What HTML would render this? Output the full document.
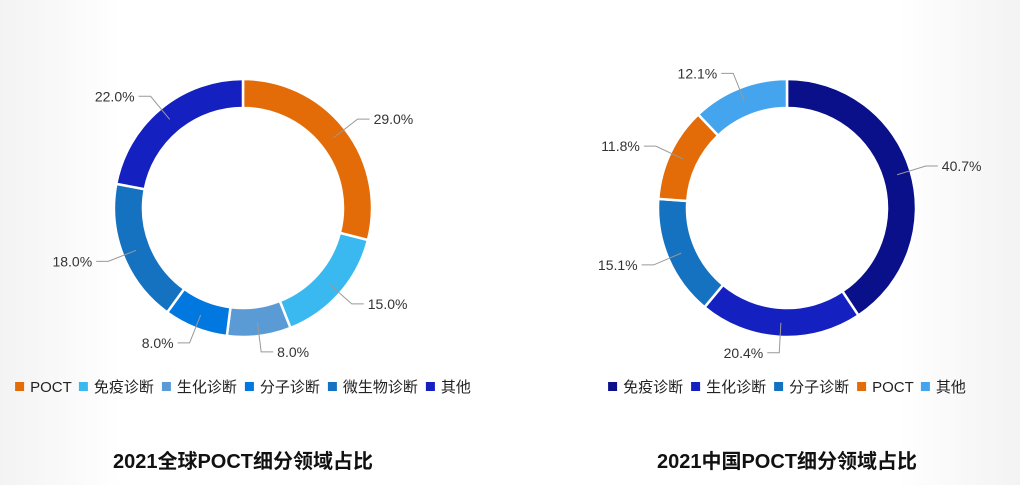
<!DOCTYPE html>
<html><head><meta charset="utf-8">
<style>
html,body{margin:0;padding:0}
body{width:1020px;height:485px;overflow:hidden;background:linear-gradient(90deg,#f3f3f3 0%,#fff 12%,#fff 88%,#f3f3f3 100%);font-family:"Liberation Sans","Noto Sans CJK SC",sans-serif}
svg{position:absolute;left:0;top:0}
</style></head><body>
<svg id="c" width="1020" height="485"></svg>
<script>
const leftCats=["POCT","免疫诊断","生化诊断","分子诊断","微生物诊断","其他"];
const leftVals=[29.0,15.0,8.0,8.0,18.0,22.0];
const leftColors=["#e36c09","#39b9f0","#5b9bd5","#0078e0","#1572c0","#1420c0"];
const rightCats=["免疫诊断","生化诊断","分子诊断","POCT","其他"];
const rightVals=[40.7,20.4,15.1,11.8,12.1];
const rightColors=["#0a0f8a","#1420c0","#1572c0","#e36c09","#44a5ee"];
const NS="http://www.w3.org/2000/svg";
const svg=document.getElementById('c');
function mk(t,a,p){const e=document.createElementNS(NS,t);for(const k in a)e.setAttribute(k,a[k]);(p||svg).appendChild(e);return e;}
function pt(cx,cy,r,a){return [cx+r*Math.sin(a),cy-r*Math.cos(a)];}
function donut(name,cx,cy,cats,vals,colors,title){
  const g=mk('g',{});
  
  
  const tot=vals.reduce((a,b)=>a+b,0);
  const R=129,r=100;let a0=0;
  vals.forEach((v,i)=>{
    const a1=a0+v/tot*2*Math.PI;
    const [x1,y1]=pt(cx,cy,R,a0),[x2,y2]=pt(cx,cy,R,a1),[x3,y3]=pt(cx,cy,r,a1),[x4,y4]=pt(cx,cy,r,a0);
    const lg=(a1-a0)>Math.PI?1:0;
    const p=mk('path',{d:`M${x1},${y1}A${R},${R} 0 ${lg} 1 ${x2},${y2}L${x3},${y3}A${r},${r} 0 ${lg} 0 ${x4},${y4}Z`,fill:colors[i],stroke:'#fff','stroke-width':2.5},g);
    
    
    const am=(a0+a1)/2;
    const [lx1,ly1]=pt(cx,cy,115,am),[lx2,ly2]=pt(cx,cy,145,am);
    const right=Math.sin(am)>=0;const lx3=lx2+(right?12:-12);
    const ln=mk('polyline',{points:`${lx1},${ly1} ${lx2},${ly2} ${lx3},${ly2}`,fill:'none',stroke:'#999','stroke-width':1},g);
    
    
    const t=mk('text',{x:lx3+(right?4:-4),y:ly2+5,'font-size':14,fill:'#333','text-anchor':right?'start':'end'},g);
    t.textContent=v.toFixed(1)+'%';
    
    
    a0=a1;
  });
  const lg=mk('g',{},g);
  
  
  const widths=cats.map(c=>{let w=0;for(const ch of c)w+=ch.charCodeAt(0)>255?15:10.2;return w;});
  let total=widths.reduce((a,b)=>a+b,0)+cats.length*15+(cats.length-1)*8;
  let x=cx-total/2;
  cats.forEach((c,i)=>{
    const e=mk('g',{},lg);
    
    
    mk('rect',{x:x,y:382,width:9,height:9,fill:colors[i]},e);
    const t=mk('text',{x:x+15,y:392,'font-size':15,fill:'#222'},e);t.textContent=c;
    x+=15+widths[i]+8;
  });
  const tt=mk('text',{x:cx,y:468,'font-size':20,'font-weight':'bold',fill:'#111','text-anchor':'middle'},g);
  tt.textContent=title;
  
  
}
donut('global-donut',243,208,leftCats,leftVals,leftColors,'2021全球POCT细分领域占比');
donut('china-donut',787,208,rightCats,rightVals,rightColors,'2021中国POCT细分领域占比');
</script>
</body></html>
